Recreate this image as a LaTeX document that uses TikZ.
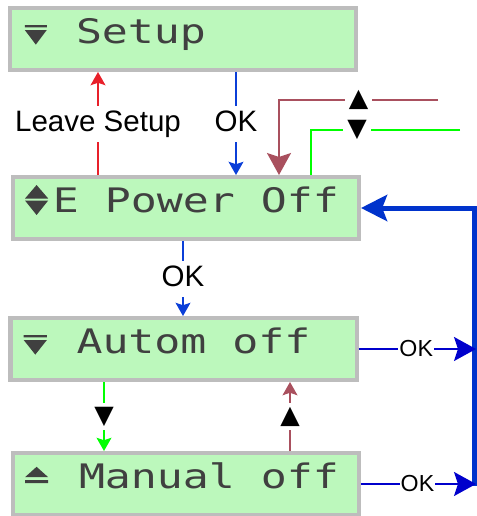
\documentclass[tikz,border=0pt]{standalone}
\usepackage{fontspec}
\setmainfont{Liberation Sans}
\newfontfamily\lcdfont[FakeStretch=1.28]{DejaVu Sans Mono}
\newfontfamily\symfont{DejaVu Sans}
\usetikzlibrary{arrows.meta,calc}
\definecolor{lcdgreen}{HTML}{BCF8BC}
\definecolor{lcdframe}{HTML}{BDBDBD}
\definecolor{lcdink}{HTML}{404040}
\definecolor{leavered}{HTML}{E8202A}
\definecolor{okblue}{HTML}{0B3FD8}
\definecolor{sideblue}{HTML}{0000CC}
\definecolor{busblue}{HTML}{0033CC}
\definecolor{upmauve}{HTML}{A9505E}
\definecolor{downgreen}{HTML}{00FF00}
\newlength{\lcdcell}
\newcommand{\lcdtype}{\lcdfont\fontsize{24pt}{28pt}\selectfont\settowidth{\lcdcell}{x}\spaceskip=\lcdcell\hyphenpenalty=10000\relax}

\begin{document}
\begin{tikzpicture}[
      lcd/.style={draw=lcdframe,line width=0.1cm,fill=lcdgreen,text=lcdink,font=\lcdtype,align=flush left,text width=6.65cm,inner xsep=1cm,minimum height=1.55cm,text height=0.65cm,text depth=0.41cm},
      lbl/.style={fill=white,text=black,inner sep=0.1cm,font=\fontsize{21pt}{25pt}\selectfont,text height=0.55cm,text depth=0.15cm},
      oklbl/.style={fill=white,text=black,inner xsep=0.03cm,inner ysep=0.05cm,font=\fontsize{16.5pt}{20pt}\selectfont},
      tri/.style={fill=white,text=black,inner sep=0.1cm,font=\symfont\fontsize{18pt}{20pt}\selectfont},
      conn/.style={line width=0.05cm},
      smallhead/.style={-{Stealth[length=0.33cm,width=0.37cm,inset=0.06cm]}},
      bighead/.style={-{Stealth[length=0.55cm,width=0.6cm,inset=0.1cm]}},
      bushead/.style={-{Stealth[length=0.65cm,width=0.65cm,inset=0.12cm]}}
    ]
    \useasboundingbox (0,0) rectangle (11.925,-12.9);
    \node[lcd] (setup) at (4.575,-0.975) {~Setup};
    \node[lcd] (power) at (4.65,-5.2) {E~Power~Off};
    \node[lcd] (autom) at (4.5875,-8.725) {~Autom~off};
    \node[lcd] (manual) at (4.65,-12.1) {~Manual~off};
    \fill[lcdink,shift={(setup.west)}] (0.42,0.35) rectangle (0.97,0.29) (0.42,0.225) -- (0.97,0.225) -- (0.695,-0.14) -- cycle;
    \fill[lcdink,shift={(power.west)}] (0.35,0.2375) -- (0.64,0.575) -- (0.93,0.2375) -- cycle (0.35,0.1875) -- (0.93,0.1875) -- (0.64,-0.175) -- cycle;
    \fill[lcdink,shift={(autom.west)}] (0.38,0.35) rectangle (0.96,0.29) (0.38,0.225) -- (0.96,0.225) -- (0.67,-0.14) -- cycle;
    \fill[lcdink,shift={(manual.west)}] (0.35,0.1) rectangle (0.93,0.02) (0.35,0.17) -- (0.93,0.17) -- (0.64,0.43) -- cycle;
    \coordinate (upin) at (10.95,-2.5);
    \coordinate (downin) at (11.5,-3.25);
    \coordinate (busend) at (11.85,-12.15);
    \draw[conn,leavered,smallhead] (power.north -| 2.45,0) -- node[lbl]{Leave Setup} (setup.south -| 2.45,0);
    \draw[conn,okblue,smallhead] (setup.south -| 5.9,0) -- node[lbl]{OK} (power.north -| 5.9,0);
    \draw[conn,upmauve,bighead] (upin) -- node[tri]{▲} (6.975,-2.5) -- (power.north -| 6.975,0);
    \draw[conn,downgreen] (downin) -- node[tri,pos=0.69]{▼} (7.775,-3.25) -- (power.north -| 7.775,0);
    \draw[busblue,line width=0.125cm,bushead] (busend) |- (power.east);
    \draw[conn,okblue,smallhead] (power.south -| 4.575,0) -- node[lbl]{OK} (autom.north -| 4.575,0);
    \draw[conn,sideblue,bighead,shorten >=-0.05cm] (autom.east) -- node[oklbl]{OK} (autom.east -| busend);
    \draw[conn,sideblue,bighead,shorten >=-0.05cm] (manual.east) -- node[oklbl]{OK} (manual.east -| busend);
    \draw[conn,downgreen,smallhead] (autom.south -| 2.6,0) -- node[tri]{▼} (manual.north -| 2.6,0);
    \draw[conn,upmauve,smallhead] (manual.north -| 7.25,0) -- node[tri]{▲} (autom.south -| 7.25,0);
  \end{tikzpicture}
\end{document}
